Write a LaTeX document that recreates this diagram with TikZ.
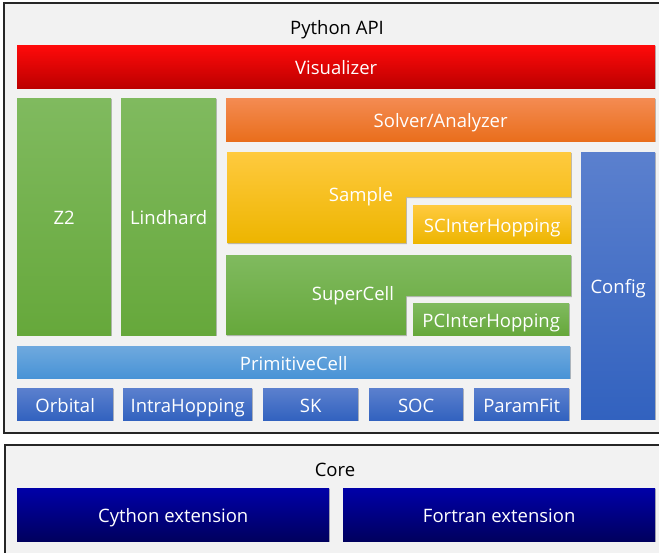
\documentclass[tikz,border=0pt]{standalone}
\usepackage{fontspec}
\setmainfont{Open Sans}
\usetikzlibrary{shadows}
\definecolor{framebg}{HTML}{F2F2F2}
\definecolor{redT}{HTML}{FF0A0A}
\definecolor{redB}{HTML}{BC0000}
\definecolor{grnT}{HTML}{80BA5F}
\definecolor{grnB}{HTML}{66A83B}
\definecolor{orgT}{HTML}{F48B52}
\definecolor{orgB}{HTML}{E96E1C}
\definecolor{ylwT}{HTML}{FFCA3F}
\definecolor{ylwB}{HTML}{EDB500}
\definecolor{bluT}{HTML}{5B80CE}
\definecolor{bluB}{HTML}{3262BF}
\definecolor{lbT}{HTML}{6FA9DE}
\definecolor{lbB}{HTML}{4893D6}
\definecolor{navT}{HTML}{0000A8}
\definecolor{navB}{HTML}{00005E}
\tikzset{
  shd/.style={drop shadow={shadow xshift=0.8pt, shadow yshift=-1.2pt, opacity=0.35, fill=black!70}},
  txt/.style={inner sep=0pt, font=\fontsize{18.5}{21}\selectfont, text height=15.6pt, text depth=0pt},
  blk/.style={shd, anchor=north west, txt, text=white},
  redbox/.style={blk, top color=redT, bottom color=redB},
  grnbox/.style={blk, top color=grnT, bottom color=grnB},
  orgbox/.style={blk, top color=orgT, bottom color=orgB},
  ylwbox/.style={blk, top color=ylwT, bottom color=ylwB},
  blubox/.style={blk, top color=bluT, bottom color=bluB},
  lbbox/.style={blk, top color=lbT, bottom color=lbB},
  navbox/.style={blk, top color=navT, bottom color=navB},
  lbl/.style={txt, text=white},
  ttl/.style={txt, text=black},
  frame/.style={fill=framebg, draw=black!85, line width=1.3pt}
}
\begin{document}
\begin{tikzpicture}[x=1pt,y=-1pt]
\useasboundingbox (0,0) rectangle (659,552);
\clip (0,0) rectangle (659,552);
\fill[white] (0,0) rectangle (659,552);
% frames
\draw[frame] (4,3) rectangle (670,433);
\draw[frame] (5,445) rectangle (670,570);
\node[ttl] (pyapi) at (337,26.5) {Python API};
\node[ttl] (core) at (335,468.5) {Core};
% upper stack
\node[redbox, minimum width=638pt, minimum height=43pt] (vis) at (17,45) {Visualizer};
\node[grnbox, minimum width=94pt, minimum height=237pt] (z2) at (17,98) {Z2};
\node[grnbox, minimum width=95pt, minimum height=237pt] (lind) at (121,98) {Lindhard};
\node[orgbox, minimum width=429pt, minimum height=43pt] (solver) at (226,98) {Solver/Analyzer};
% Sample (L-shape)
\shade[shd, top color=ylwT, bottom color=ylwB] (227,152) -- (571,152) -- (571,197) -- (406,197) -- (406,243) -- (227,243) -- cycle;
\node[lbl] (sample) at (361,194) {Sample};
\node[ylwbox, minimum width=158pt, minimum height=38pt] (scih) at (413,205) {SCInterHopping};
% SuperCell (L-shape)
\shade[shd, top color=grnT, bottom color=grnB] (226,255) -- (571,255) -- (571,296) -- (406,296) -- (406,335) -- (226,335) -- cycle;
\node[lbl] (supercell) at (353,293) {SuperCell};
\node[grnbox, minimum width=156pt, minimum height=32pt] (pcih) at (413,303) {PCInterHopping};
\node[blubox, minimum width=74pt, minimum height=267pt] (config) at (581,152) {Config};
\node[lbbox, minimum width=553pt, minimum height=32pt] (prim) at (17,346) {PrimitiveCell};
\node[blubox, minimum width=96pt, minimum height=32pt] (orbital) at (17,388) {Orbital};
\node[blubox, minimum width=129pt, minimum height=32pt] (intra) at (123,388) {IntraHopping};
\node[blubox, minimum width=95pt, minimum height=32pt] (sk) at (263,388) {SK};
\node[blubox, minimum width=94pt, minimum height=32pt] (soc) at (369,388) {SOC};
\node[blubox, minimum width=95pt, minimum height=32pt] (paramfit) at (474,388) {ParamFit};
% core
\node[navbox, minimum width=312pt, minimum height=53pt] (cython) at (17,488) {Cython extension};
\node[navbox, minimum width=312pt, minimum height=53pt] (fortran) at (343,488) {Fortran extension};
\end{tikzpicture}
\end{document}
